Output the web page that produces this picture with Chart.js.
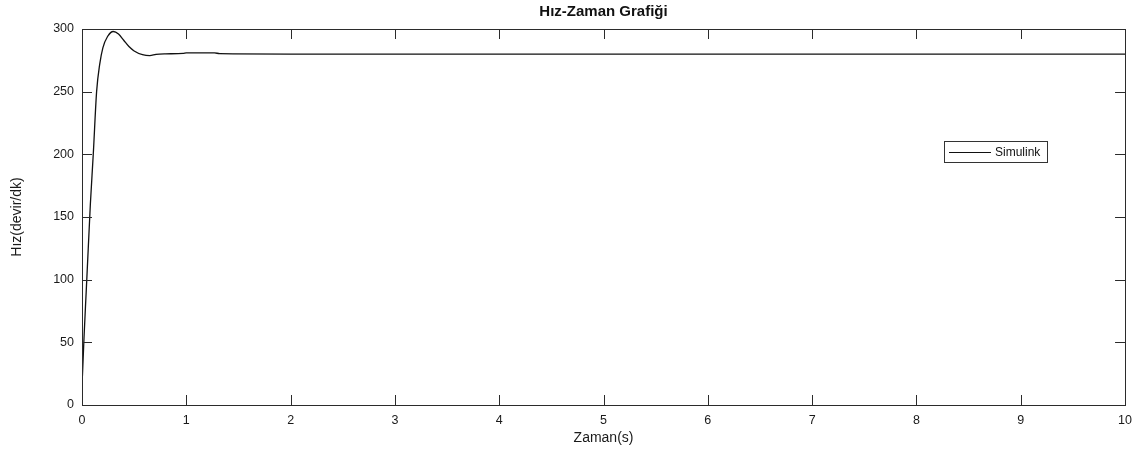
<!DOCTYPE html>
<html lang="tr">

<head>
    <meta charset="UTF-8">
    <title>Hız-Zaman Grafiği</title>
    <style>
        html, body { margin: 0; padding: 0; background: #fff; overflow: hidden; }
        canvas { display: block; }
    </style>
</head>

<body>
    <canvas id="myChart" width="1140" height="453"></canvas>

    <script src="https://cdn.jsdelivr.net/npm/chart.js"></script>
    <script>
        // zaman (s) ve hız (devir/dk) değerleri
        var zaman = [0, 0.005, 0.01, 0.02, 0.04, 0.06, 0.08, 0.108, 0.14, 0.17, 0.2, 0.245, 0.3, 0.35, 0.4, 0.45, 0.5, 0.58, 0.65, 0.71, 0.8, 0.97, 1.0, 1.27, 1.32, 2, 10];
        var hiz = [17, 25, 35, 55, 90, 125, 160, 200, 250, 272, 285, 294, 298, 296, 291, 286, 282.5, 279.5, 278.7, 279.8, 280.2, 280.5, 281, 281, 280.3, 280, 280];
        var xTicks = [0, 1, 2, 3, 4, 5, 6, 7, 8, 9, 10];
        var yTicks = [0, 50, 100, 150, 200, 250, 300];
        var seriesName = 'Simulink';

        var axisColor = '#2b2b2b';
        var textFont = 'Liberation Sans, Arial, sans-serif';

        var points = zaman.map(function (t, i) { return { x: t, y: hiz[i] }; });

        // MATLAB tarzı kutu, içe dönük tik çizgileri ve lejant
        var boxPlugin = {
            id: 'boxPlugin',
            afterDraw: function (chart) {
                var ctx = chart.ctx;
                var a = chart.chartArea;
                var xs = chart.scales.x, ys = chart.scales.y;
                var tl = 10;
                ctx.save();
                ctx.strokeStyle = axisColor;
                ctx.lineWidth = 1;
                ctx.beginPath();
                xTicks.forEach(function (v) {
                    var px = Math.round(xs.getPixelForValue(v)) + 0.5;
                    ctx.moveTo(px, a.bottom); ctx.lineTo(px, a.bottom - tl);
                    ctx.moveTo(px, a.top); ctx.lineTo(px, a.top + tl);
                });
                yTicks.forEach(function (v) {
                    var py = Math.round(ys.getPixelForValue(v)) + 0.5;
                    ctx.moveTo(a.left, py); ctx.lineTo(a.left + tl, py);
                    ctx.moveTo(a.right, py); ctx.lineTo(a.right - tl, py);
                });
                ctx.stroke();
                ctx.strokeRect(Math.round(a.left) + 0.5, Math.round(a.top) + 0.5,
                    Math.round(a.right - a.left), Math.round(a.bottom - a.top));

                // lejant kutusu
                var lx = Math.round(a.left + (a.right - a.left) * 0.826);
                var ly = Math.round(a.top + 112);
                var lw = 103, lh = 21;
                ctx.fillStyle = '#fff';
                ctx.fillRect(lx, ly, lw, lh);
                ctx.strokeStyle = '#333';
                ctx.strokeRect(lx + 0.5, ly + 0.5, lw, lh);
                var ds = chart.data.datasets[0];
                ctx.strokeStyle = ds.borderColor;
                ctx.lineWidth = 1;
                ctx.beginPath();
                ctx.moveTo(lx + 5, ly + 11.5);
                ctx.lineTo(lx + 47, ly + 11.5);
                ctx.stroke();
                ctx.fillStyle = '#111';
                ctx.font = '12px ' + textFont;
                ctx.textBaseline = 'middle';
                ctx.fillText(ds.label, lx + 51, ly + lh / 2 + 1);
                ctx.restore();
            }
        };

        var myChart = new Chart(document.getElementById('myChart'), {
            type: 'line',
            data: {
                datasets: [{
                    label: seriesName,
                    data: points,
                    borderColor: '#111',
                    borderWidth: 1.3,
                    pointRadius: 0,
                    cubicInterpolationMode: 'monotone',
                    fill: false
                }]
            },
            options: {
                responsive: false,
                animation: false,
                devicePixelRatio: 1,
                layout: { padding: { top: 0, right: 13, bottom: 0, left: 0 } },
                plugins: {
                    legend: { display: false },
                    tooltip: { enabled: false },
                    title: {
                        display: true,
                        fullSize: false,
                        text: 'Hız-Zaman Grafiği',
                        color: '#111',
                        font: { family: textFont, size: 15, weight: 'bold' },
                        padding: { top: 3, bottom: 8 }
                    }
                },
                scales: {
                    x: {
                        type: 'linear',
                        min: 0,
                        max: 10,
                        afterBuildTicks: function (s) { s.ticks = xTicks.map(function (v) { return { value: v }; }); },
                        afterFit: function (s) { s.height = 48; },
                        grid: { drawOnChartArea: false, drawTicks: false },
                        border: { display: false },
                        ticks: { color: '#1a1a1a', padding: 8, maxRotation: 0, font: { family: textFont, size: 12.5 } },
                        title: {
                            display: true,
                            text: 'Zaman(s)',
                            color: '#1a1a1a',
                            font: { family: textFont, size: 14 },
                            padding: { top: 0, bottom: 6 }
                        }
                    },
                    y: {
                        min: 0,
                        max: 300,
                        afterBuildTicks: function (s) { s.ticks = yTicks.map(function (v) { return { value: v }; }); },
                        afterFit: function (s) { s.width = 82; },
                        grid: { drawOnChartArea: false, drawTicks: false },
                        border: { display: false },
                        ticks: { color: '#1a1a1a', padding: 8, font: { family: textFont, size: 12.5 } },
                        title: {
                            display: true,
                            text: 'Hız(devir/dk)',
                            color: '#1a1a1a',
                            font: { family: textFont, size: 14 },
                            padding: { top: 9, bottom: 0 }
                        }
                    }
                }
            },
            plugins: [boxPlugin]
        });
    </script>
</body>

</html>
